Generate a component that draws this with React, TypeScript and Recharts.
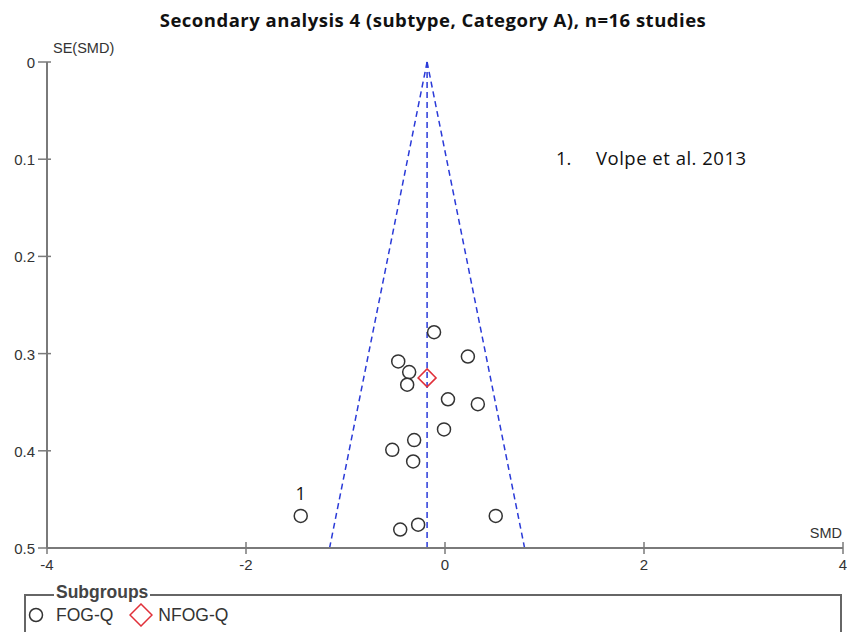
import React from "react"
import {
  ScatterChart,
  Scatter,
  XAxis,
  YAxis,
  ReferenceLine,
  LabelList,
} from "recharts"

// values
const fogQ = [
  { smd: -0.11, se: 0.278 },
  { smd: -0.47, se: 0.308 },
  { smd: -0.36, se: 0.319 },
  { smd: -0.38, se: 0.332 },
  { smd: 0.23, se: 0.303 },
  { smd: 0.03, se: 0.347 },
  { smd: 0.33, se: 0.352 },
  { smd: -0.01, se: 0.378 },
  { smd: -0.31, se: 0.389 },
  { smd: -0.53, se: 0.399 },
  { smd: -0.32, se: 0.411 },
  { smd: -1.45, se: 0.467, label: "1" },
  { smd: 0.51, se: 0.467 },
  { smd: -0.27, se: 0.476 },
  { smd: -0.45, se: 0.481 },
]

const nfogQ = [{ smd: -0.18, se: 0.325 }]

const pooled = -0.18
const maxSe = 0.5
const xTicks = [-4, -2, 0, 2, 4]
const yTicks = [0, 0.1, 0.2, 0.3, 0.4, 0.5]

const axisColor = "#7a7a7a"
const funnelColor = "#2a3ad8"
const axisFont = "'Liberation Sans', Arial, sans-serif"
const textFont = "'Open Sans', Lato, sans-serif"

function YTick(props: any) {
  const { x, y, payload } = props
  return (
    <g>
      <line x1={x - 7} x2={x + 6} y1={y} y2={y} stroke={axisColor} strokeWidth={1.5} />
      <text x={x - 10} y={y + 6} textAnchor="end" fontSize={15} fill="#333" fontFamily={axisFont}>
        {payload.value}
      </text>
    </g>
  )
}

function XTick(props: any) {
  const { x, y, payload } = props
  return (
    <g>
      <line x1={x} x2={x} y1={y - 8} y2={y + 4} stroke={axisColor} strokeWidth={1.5} />
      <text x={x} y={y + 20} textAnchor="middle" fontSize={15} fill="#333" fontFamily={axisFont}>
        {payload.value}
      </text>
    </g>
  )
}

const circleShape = (p: any) => (
  <circle cx={p.cx} cy={p.cy} r={6.5} fill="#fff" stroke="#333" strokeWidth={1.5} />
)

const diamondShape = (p: any) => (
  <path
    d={`M${p.cx},${p.cy - 9} L${p.cx + 9},${p.cy} L${p.cx},${p.cy + 9} L${p.cx - 9},${p.cy} Z`}
    fill="none"
    stroke="#e0303a"
    strokeWidth={1.5}
  />
)

export default function App() {
  const half = 1.96 * maxSe
  return (
    <div style={{ position: "absolute", left: 0, top: 0, width: 847, height: 632, overflow: "hidden", background: "#fff" }}>
      <div
        style={{
          position: "absolute",
          top: 7,
          left: 0,
          width: 866,
          textAlign: "center",
          fontFamily: textFont,
          fontWeight: 700,
          fontSize: 18.5,
          letterSpacing: 0.5,
          color: "#111",
        }}
      >
        Secondary analysis 4 (subtype, Category A), n=16 studies
      </div>

      <ScatterChart width={847} height={632} margin={{ top: 62, right: 4, bottom: 64, left: 0 }}>
        <XAxis
          type="number"
          dataKey="smd"
          domain={[-4, 4]}
          ticks={xTicks}
          tick={<XTick />}
          tickSize={0}
          tickLine={false}
          height={20}
          axisLine={{ stroke: axisColor, strokeWidth: 2 }}
        />
        <YAxis
          type="number"
          dataKey="se"
          domain={[0, 0.5]}
          ticks={yTicks}
          reversed
          tick={<YTick />}
          tickSize={0}
          tickLine={false}
          width={47}
          axisLine={{ stroke: axisColor, strokeWidth: 2 }}
        />
        <ReferenceLine
          segment={[{ x: pooled, y: 0 }, { x: pooled - half, y: maxSe }]}
          stroke={funnelColor}
          strokeWidth={1.5}
          strokeDasharray="6 4"
        />
        <ReferenceLine
          segment={[{ x: pooled, y: 0 }, { x: pooled + half, y: maxSe }]}
          stroke={funnelColor}
          strokeWidth={1.5}
          strokeDasharray="6 4"
        />
        <ReferenceLine
          segment={[{ x: pooled, y: 0 }, { x: pooled, y: maxSe }]}
          stroke={funnelColor}
          strokeWidth={1.5}
          strokeDasharray="6 4"
        />
        <Scatter data={fogQ} shape={circleShape} isAnimationActive={false}>
          <LabelList dataKey="label" position="top" offset={11} fontSize={18} fill="#111" fontFamily={textFont} />
        </Scatter>
        <Scatter data={nfogQ} shape={diamondShape} isAnimationActive={false} />
      </ScatterChart>

      <div style={{ position: "absolute", left: 53, top: 40, fontFamily: axisFont, fontSize: 14.5, color: "#333" }}>
        SE(SMD)
      </div>
      <div style={{ position: "absolute", right: 5, top: 525, fontFamily: axisFont, fontSize: 14.5, color: "#333" }}>
        SMD
      </div>
      <div style={{ position: "absolute", left: 556, top: 145, fontFamily: textFont, fontSize: 18.5, color: "#111" }}>
        1.
      </div>
      <div
        style={{
          position: "absolute",
          left: 596,
          top: 145,
          fontFamily: textFont,
          fontSize: 18.5,
          letterSpacing: 0.5,
          color: "#111",
        }}
      >
        Volpe et al. 2013
      </div>

      <div
        style={{
          position: "absolute",
          left: 24,
          top: 594,
          width: 818,
          height: 40,
          border: "2px solid #666",
          borderBottom: "none",
          boxSizing: "border-box",
        }}
      />
      <div
        style={{
          position: "absolute",
          left: 54,
          top: 582,
          padding: "0 2px",
          background: "#fff",
          fontFamily: axisFont,
          fontWeight: 700,
          fontSize: 17.5,
          color: "#444",
        }}
      >
        Subgroups
      </div>
      <div
        style={{
          position: "absolute",
          left: 28,
          top: 603,
          display: "flex",
          alignItems: "center",
          fontFamily: axisFont,
          fontSize: 17.5,
          color: "#333",
        }}
      >
        <svg width={16} height={22}>
          <circle cx={8} cy={11} r={6.5} fill="none" stroke="#333" strokeWidth={1.5} />
        </svg>
        <span style={{ marginLeft: 12 }}>FOG-Q</span>
        <svg width={24} height={24} style={{ marginLeft: 16 }}>
          <path d="M12,1 L23,12 L12,23 L1,12 Z" fill="none" stroke="#e0303a" strokeWidth={1.5} />
        </svg>
        <span style={{ marginLeft: 5 }}>NFOG-Q</span>
      </div>
    </div>
  )
}
